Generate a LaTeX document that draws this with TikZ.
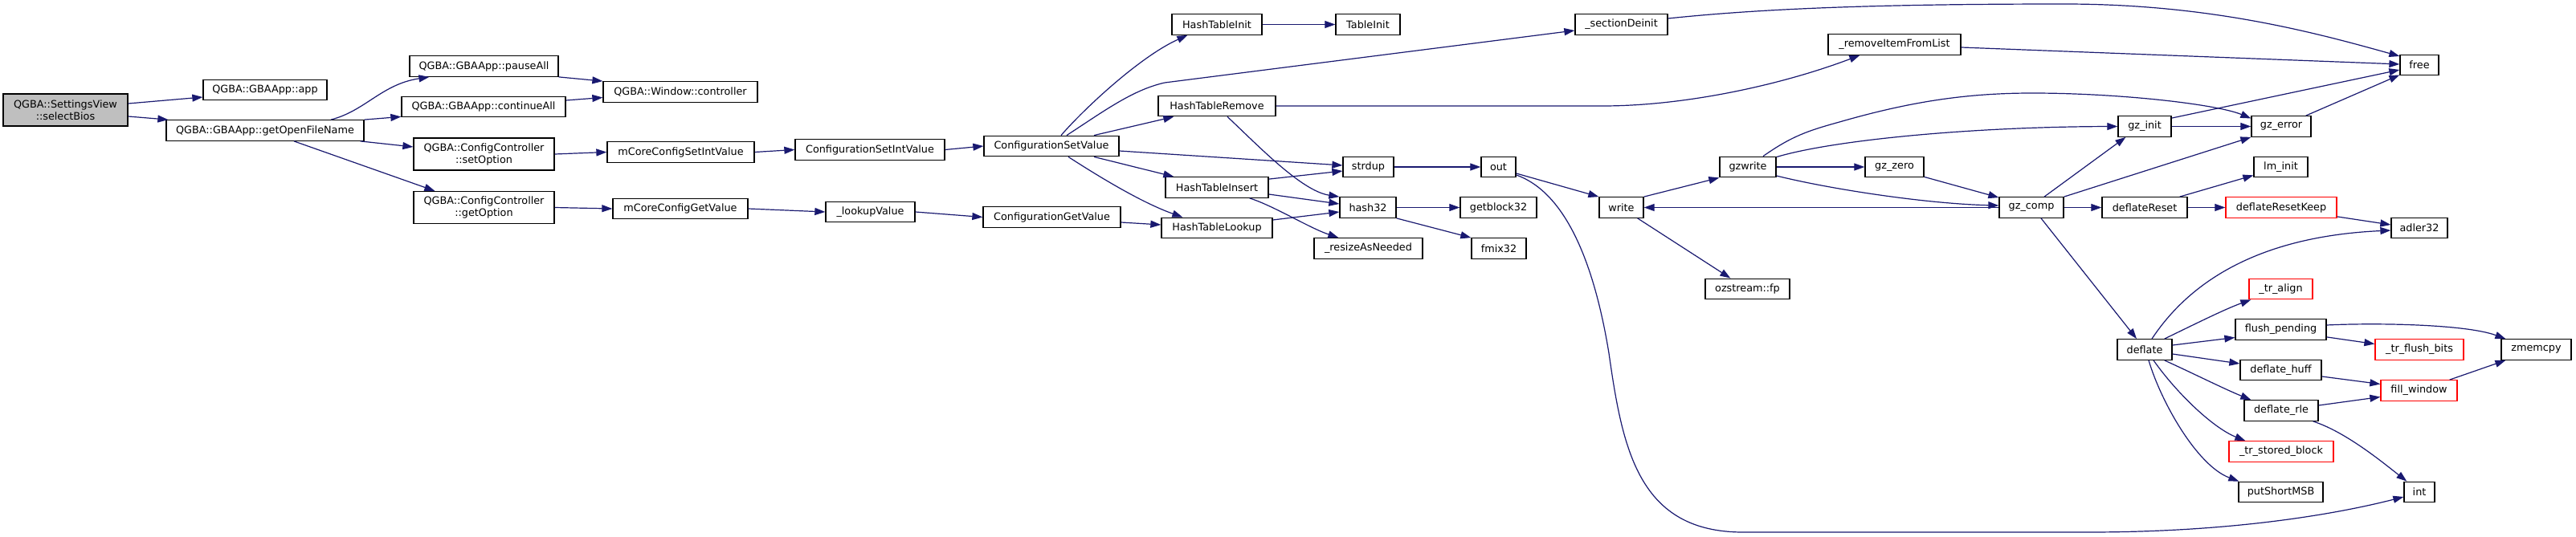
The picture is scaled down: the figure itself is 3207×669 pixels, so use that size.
\documentclass[tikz,border=0pt]{standalone}
\usepackage{fontspec}
\setmainfont{DejaVu Sans}
\usetikzlibrary{arrows.meta}
\definecolor{edgec}{HTML}{191970}
\definecolor{graynode}{HTML}{BFBFBF}
\begin{document}
\begin{tikzpicture}[x=1pt,y=-1pt,
  box/.style={draw=black, line width=1.3pt, fill=white, inner sep=0pt, minimum height=25.5pt,
    font=\fontsize{12.8}{15}\selectfont, align=center},
  redbox/.style={box, draw=red},
  cl/.style={draw=edgec, line width=1.2pt, -{Triangle[length=13pt,width=9pt]}, fill=none}]
\useasboundingbox[fill=white] (0,0) rectangle (3207,669);
% nodes
\node[box, fill=graynode, minimum width=155pt, minimum height=40pt] (sb) at (81.5,137) {QGBA::SettingsView\\::selectBios};
\node[box, minimum width=154pt] (app) at (330,112) {QGBA::GBAApp::app};
\node[box, minimum width=246pt] (gofn) at (330,162.5) {QGBA::GBAApp::getOpenFileName};
\node[box, minimum width=185pt] (pa) at (602.5,82.5) {QGBA::GBAApp::pauseAll};
\node[box, minimum width=204pt] (ca) at (602,133) {QGBA::GBAApp::continueAll};
\node[box, minimum width=175pt, minimum height=40pt] (so) at (602.5,192) {QGBA::ConfigController\\::setOption};
\node[box, minimum width=175pt, minimum height=40pt] (go) at (602.5,258.5) {QGBA::ConfigController\\::getOption};
\node[box, minimum width=192pt] (ctrl) at (847,114.5) {QGBA::Window::controller};
\node[box, minimum width=183pt] (mcsiv) at (847.5,189.5) {mCoreConfigSetIntValue};
\node[box, minimum width=168pt] (mcgv) at (847,260) {mCoreConfigGetValue};
\node[box, minimum width=186pt] (csiv) at (1083,186.5) {ConfigurationSetIntValue};
\node[box, minimum width=111pt] (lv) at (1083.5,264) {\_lookupValue};
\node[box, minimum width=168pt] (csv) at (1309,182) {ConfigurationSetValue};
\node[box, minimum width=171pt] (cgv) at (1309.5,270.5) {ConfigurationGetValue};
\node[box, minimum width=112pt] (hinit) at (1515,30.5) {HashTableInit};
\node[box, minimum width=146pt] (hrem) at (1515,132) {HashTableRemove};
\node[box, minimum width=128pt] (hins) at (1515,233.5) {HashTableInsert};
\node[box, minimum width=138pt] (hlook) at (1515,284) {HashTableLookup};
\node[box, minimum width=80pt] (tinit) at (1703,30.5) {TableInit};
\node[box, minimum width=63pt] (sdup) at (1703.5,208) {strdup};
\node[box, minimum width=70pt] (h32) at (1703,258.5) {hash32};
\node[box, minimum width=135pt] (ran) at (1703.5,309.5) {\_resizeAsNeeded};
\node[box, minimum width=43pt] (out) at (1865.5,208) {out};
\node[box, minimum width=95pt] (gb32) at (1865.5,258.5) {getblock32};
\node[box, minimum width=68pt] (fmix) at (1866,309.5) {fmix32};
\node[box, minimum width=115pt] (sd) at (2018.5,30.5) {\_sectionDeinit};
\node[box, minimum width=55pt] (wr) at (2018.5,258.5) {write};
\node[box, minimum width=165pt] (rifl) at (2358.5,55.5) {\_removeItemFromList};
\node[box, minimum width=70pt] (gzw) at (2176,208) {gzwrite};
\node[box, minimum width=105pt] (ozfp) at (2175.5,360) {ozstream::fp};
\node[box, minimum width=73pt] (gzz) at (2358.5,208) {gz\_zero};
\node[box, minimum width=80pt] (gzc) at (2529,258.5) {gz\_comp};
\node[box, minimum width=66pt] (gzi) at (2670,157.5) {gz\_init};
\node[box, minimum width=106pt] (dr) at (2670,258.5) {deflateReset};
\node[box, minimum width=68pt] (defl) at (2670,435.5) {deflate};
\node[box, minimum width=74pt] (gze) at (2840,157.5) {gz\_error};
\node[box, minimum width=67pt] (lm) at (2839.5,208) {lm\_init};
\node[redbox, minimum width=138pt] (drk) at (2840,258.5) {deflateResetKeep};
\node[redbox, minimum width=79pt] (tra) at (2839.5,360) {\_tr\_align};
\node[box, minimum width=113pt] (fp) at (2839.5,410.5) {flush\_pending};
\node[box, minimum width=101pt] (dh) at (2839.5,461) {deflate\_huff};
\node[box, minimum width=92pt] (drle) at (2840,511.5) {deflate\_rle};
\node[redbox, minimum width=130pt] (tsb) at (2840,562.5) {\_tr\_stored\_block};
\node[box, minimum width=105pt] (psm) at (2839.5,613) {putShortMSB};
\node[box, minimum width=48pt] (free) at (3012,81) {free};
\node[box, minimum width=70pt] (adl) at (3012,284) {adler32};
\node[redbox, minimum width=110pt] (tfb) at (3012,435.5) {\_tr\_flush\_bits};
\node[redbox, minimum width=95pt] (fw) at (3011.5,486.5) {fill\_window};
\node[box, minimum width=38pt] (int) at (3012,613) {int};
\node[box, minimum width=87pt] (zm) at (3157.5,435.5) {zmemcpy};
% edges
\draw[cl] ([yshift=8pt]sb.east) -- ([yshift=-9pt]app.west);
\draw[cl] ([yshift=-8pt]sb.east) -- ([xshift=3pt]gofn.north west);
\draw[cl] ([xshift=82pt]gofn.north) .. controls (455,138) and (475,105) .. ([xshift=25pt]pa.south west);
\draw[cl] (gofn.north east) -- ([yshift=1pt]ca.south west);
\draw[cl] ([xshift=-5pt]gofn.south east) -- ([yshift=9pt]so.west);
\draw[cl] ([xshift=36pt]gofn.south) -- ([xshift=27pt]go.north west);
\draw[cl] (pa.south east) -- (ctrl.north west);
\draw[cl] ([yshift=8pt]ca.east) -- ([yshift=-7pt]ctrl.west);
\draw[cl] (so.east) -- (mcsiv.west);
\draw[cl] (go.east) -- (mcgv.west);
\draw[cl] (mcsiv.east) -- (csiv.west);
\draw[cl] (mcgv.east) -- (lv.west);
\draw[cl] (csiv.east) -- (csv.west);
\draw[cl] (lv.east) -- (cgv.west);
\draw[cl] ([xshift=12pt]csv.north) .. controls (1350,135) and (1420,70) .. ([xshift=20pt]hinit.south west);
\draw[cl] ([xshift=19pt]csv.north) .. controls (1375,138) and (1410,112) .. (1450,103) -- ([yshift=-7.5pt]sd.west);
\draw[cl] ([xshift=53pt]csv.north) -- ([xshift=20pt]hrem.south west);
\draw[cl] ([yshift=-6pt]csv.east) -- ([yshift=2pt]sdup.west);
\draw[cl] ([xshift=53pt]csv.south) -- ([xshift=11pt]hins.north west);
\draw[cl] ([xshift=21pt]csv.south) .. controls (1365,218) and (1420,252) .. ([xshift=27pt]hlook.north west);
\draw[cl] ([yshift=-6.5pt]cgv.east) -- ([yshift=4pt]hlook.west);
\draw[cl] (hinit.east) -- (tinit.west);
\draw[cl] (hrem.east) -- (1995,132) .. controls (2100,132) and (2220,105) .. ([xshift=40pt]rifl.south west);
\draw[cl] ([xshift=13pt]hrem.south) .. controls (1565,180) and (1620,238) .. (h32.north west);
\draw[cl] ([yshift=-3pt]hins.north east) -- ([yshift=-5pt]sdup.west);
\draw[cl] ([yshift=-8.5pt]hins.east) -- ([yshift=4.5pt]h32.west);
\draw[cl] ([xshift=-24pt]hins.south east) .. controls (1585,256) and (1630,284) .. ([xshift=31pt]ran.north west);
\draw[cl] ([yshift=10pt]hlook.east) -- ([yshift=-5.5pt]h32.west);
\draw[cl] (sdup.east) -- (out.west);
\draw[cl] (h32.east) -- (gb32.west);
\draw[cl] (h32.south east) -- (fmix.north west);
\draw[cl] ([yshift=-8pt]out.east) -- (wr.north west);
\draw[cl] ([yshift=-10pt]out.east) .. controls (1950,240) and (1985,330) .. (2003,440) .. controls (2020,560) and (2040,663) .. (2170,663) -- (2600,663) .. controls (2800,663) and (2930,635) .. ([yshift=-6pt]int.west);
\draw[cl] (wr.north east) -- (gzw.south west);
\draw[cl] ([xshift=-8pt]wr.south east) -- ([xshift=32pt]ozfp.north west);
\draw[cl] (gzw.east) -- (gzz.west);
\draw[cl] ([yshift=-11pt]gzw.east) .. controls (2280,236) and (2400,254) .. ([yshift=2.5pt]gzc.west);
\draw[cl] ([yshift=-1pt]gzw.north east) .. controls (2280,175) and (2450,158) .. (gzi.west);
\draw[cl] ([xshift=19pt]gzw.north) .. controls (2230,170) and (2250,163) .. (2290,152) .. controls (2380,126) and (2450,116) .. (2530,116) .. controls (2640,116) and (2760,130) .. ([yshift=10pt]gze.west);
\draw[cl] ([yshift=1pt]gzz.south east) -- ([yshift=-1pt]gzc.north west);
\draw[cl] (gzc.west) -- (wr.east);
\draw[cl] ([xshift=16pt]gzc.north) -- ([xshift=10pt]gzi.south west);
\draw[cl] (gzc.north east) -- (gze.south west);
\draw[cl] (gzc.east) -- (dr.west);
\draw[cl] ([xshift=12pt]gzc.south) -- ([xshift=-10pt]defl.north);
\draw[cl] ([xshift=-10pt]dr.north east) -- ([yshift=3pt]lm.south west);
\draw[cl] (dr.east) -- (drk.west);
\draw[cl] ([yshift=2pt]drk.south east) -- ([yshift=4pt]adl.west);
\draw[cl] ([xshift=9pt]defl.north) .. controls (2720,360) and (2800,295) .. ([yshift=-3pt]adl.west);
\draw[cl] ([xshift=-10pt]defl.north east) .. controls (2730,405) and (2770,385) .. ([xshift=3pt]tra.south west);
\draw[cl] ([yshift=5.5pt]defl.east) -- ([yshift=-10pt]fp.west);
\draw[cl] ([yshift=-5.5pt]defl.east) -- ([yshift=8pt]dh.west);
\draw[cl] ([xshift=-10pt]defl.south east) .. controls (2730,465) and (2770,485) .. ([xshift=9pt]drle.north west);
\draw[cl] ([xshift=11pt]defl.south) .. controls (2710,490) and (2755,533) .. ([xshift=21pt]tsb.north west);
\draw[cl] ([xshift=5pt]defl.south) .. controls (2690,500) and (2735,580) .. ([xshift=1pt]psm.north west);
\draw[cl] ([yshift=5.5pt]fp.east) .. controls (2960,402) and (3070,404) .. ([xshift=6pt]zm.north west);
\draw[cl] ([yshift=4pt]fp.south east) -- ([yshift=7pt]tfb.west);
\draw[cl] ([yshift=-8pt]dh.east) -- ([yshift=8pt]fw.west);
\draw[cl] ([yshift=6.5pt]drle.east) -- ([yshift=-8pt]fw.west);
\draw[cl] ([xshift=-7pt]drle.south east) .. controls (2920,538) and (2965,575) .. ([xshift=4pt]int.north west);
\draw[cl] ([xshift=-10pt]fw.north east) -- ([xshift=6pt]zm.south west);
\draw[cl] ([yshift=7.5pt]sd.east) .. controls (2200,10) and (2350,5) .. (2570,5) .. controls (2750,5) and (2880,40) .. ([yshift=11pt]free.west);
\draw[cl] ([yshift=-3.5pt]rifl.east) -- ([yshift=1pt]free.west);
\draw[cl] ([yshift=-3pt]gzi.north east) -- ([yshift=-6pt]free.west);
\draw[cl] ([xshift=-7pt]gze.north east) -- ([yshift=1pt]free.south west);
\draw[cl] (gzi.east) -- (gze.west);
\end{tikzpicture}
\end{document}
